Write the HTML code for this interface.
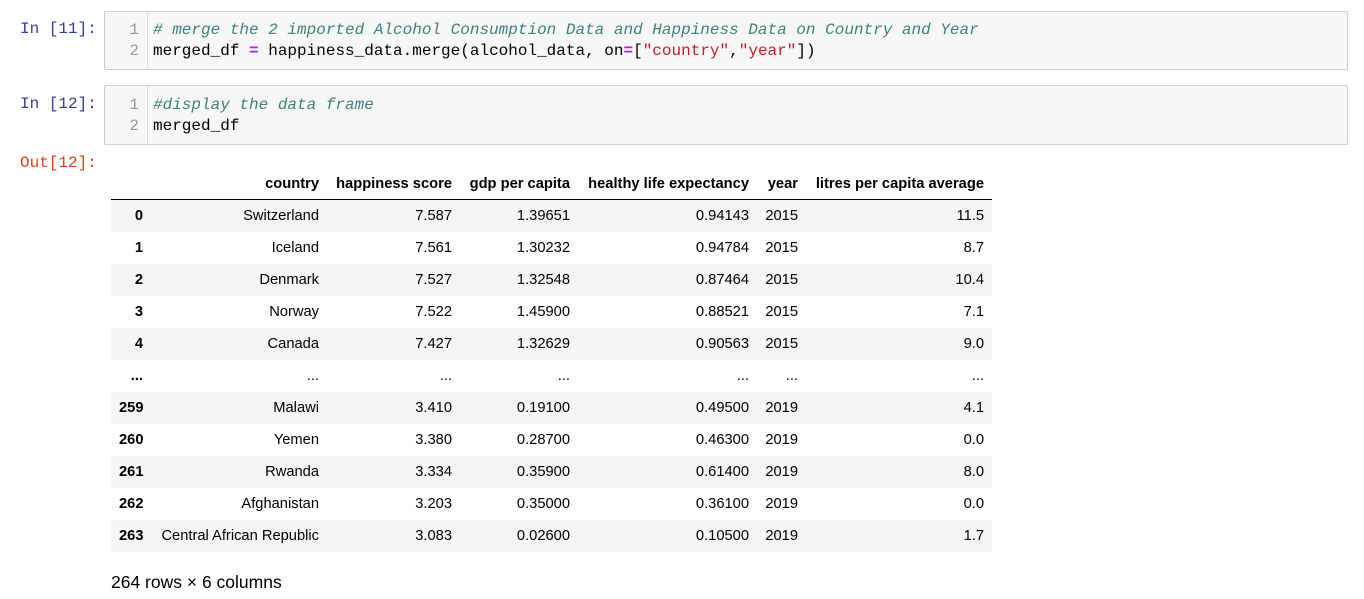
<!DOCTYPE html>
<html><head><meta charset="utf-8"><style>
body{margin:0;width:1364px;height:599px;background:#fff;position:relative;overflow:hidden;font-family:"Liberation Sans",Arial,sans-serif}
.abs{position:absolute}
.prompt{font-family:"Liberation Mono",monospace;font-size:16px;color:#303f9f}
.out{color:#d84315}
.cell{position:absolute;left:104px;width:1242px;background:#f7f7f7;border:1px solid #cfcfcf;border-radius:2px}
.gut{position:absolute;left:0;top:0;bottom:0;width:42px;border-right:1px solid #ddd}
.ln{position:absolute;left:0;width:34px;text-align:right;font-family:"Liberation Mono",monospace;font-size:16px;color:#999}
.code{position:absolute;left:48px;font-family:"Liberation Mono",monospace;font-size:16px;color:#000;white-space:pre}
.cm{color:#408080;font-style:italic}
.op{color:#aa22ff;font-weight:bold}
.st{color:#ba2121}
table{position:absolute;left:111px;top:168px;width:881px;table-layout:fixed;border-collapse:collapse;font-size:14.7px;color:#000}
th,td{padding:0 8px;text-align:right;height:32px;white-space:nowrap;overflow:visible}
thead th{height:31px;border-bottom:1px solid #000;vertical-align:middle}
tbody tr:nth-child(odd){background:#f5f5f5}
</style></head><body>
<div class="abs prompt" style="left:20px;top:20px">In [11]:</div>
<div class="cell" style="top:11px;height:57px">
<div class="gut"></div>
<div class="ln" style="top:9px">1</div><div class="ln" style="top:30px">2</div>
<div class="code" style="top:9px"><span class="cm"># merge the 2 imported Alcohol Consumption Data and Happiness Data on Country and Year</span></div>
<div class="code" style="top:30px">merged_df <span class="op">=</span> happiness_data.merge(alcohol_data, on<span class="op">=</span>[<span class="st">"country"</span>,<span class="st">"year"</span>])</div>
</div>
<div class="abs prompt" style="left:20px;top:95px">In [12]:</div>
<div class="cell" style="top:85px;height:58px">
<div class="gut"></div>
<div class="ln" style="top:10px">1</div><div class="ln" style="top:31px">2</div>
<div class="code" style="top:10px"><span class="cm">#display the data frame</span></div>
<div class="code" style="top:31px">merged_df</div>
</div>
<div class="abs prompt out" style="left:20px;top:154px">Out[12]:</div>
<table>
<colgroup><col style="width:40px"><col style="width:176px"><col style="width:133px"><col style="width:118px"><col style="width:179px"><col style="width:49px"><col style="width:186px"></colgroup>
<thead><tr><th></th><th>country</th><th>happiness score</th><th>gdp per capita</th><th>healthy life expectancy</th><th>year</th><th>litres per capita average</th></tr></thead>
<tbody>
<tr><th>0</th><td>Switzerland</td><td>7.587</td><td>1.39651</td><td>0.94143</td><td>2015</td><td>11.5</td></tr>
<tr><th>1</th><td>Iceland</td><td>7.561</td><td>1.30232</td><td>0.94784</td><td>2015</td><td>8.7</td></tr>
<tr><th>2</th><td>Denmark</td><td>7.527</td><td>1.32548</td><td>0.87464</td><td>2015</td><td>10.4</td></tr>
<tr><th>3</th><td>Norway</td><td>7.522</td><td>1.45900</td><td>0.88521</td><td>2015</td><td>7.1</td></tr>
<tr><th>4</th><td>Canada</td><td>7.427</td><td>1.32629</td><td>0.90563</td><td>2015</td><td>9.0</td></tr>
<tr><th>...</th><td>...</td><td>...</td><td>...</td><td>...</td><td>...</td><td>...</td></tr>
<tr><th>259</th><td>Malawi</td><td>3.410</td><td>0.19100</td><td>0.49500</td><td>2019</td><td>4.1</td></tr>
<tr><th>260</th><td>Yemen</td><td>3.380</td><td>0.28700</td><td>0.46300</td><td>2019</td><td>0.0</td></tr>
<tr><th>261</th><td>Rwanda</td><td>3.334</td><td>0.35900</td><td>0.61400</td><td>2019</td><td>8.0</td></tr>
<tr><th>262</th><td>Afghanistan</td><td>3.203</td><td>0.35000</td><td>0.36100</td><td>2019</td><td>0.0</td></tr>
<tr><th>263</th><td>Central African Republic</td><td>3.083</td><td>0.02600</td><td>0.10500</td><td>2019</td><td>1.7</td></tr>
</tbody></table>
<div class="abs" style="left:111px;top:572px;font-size:17.5px;color:#000">264 rows × 6 columns</div>
</body></html>
